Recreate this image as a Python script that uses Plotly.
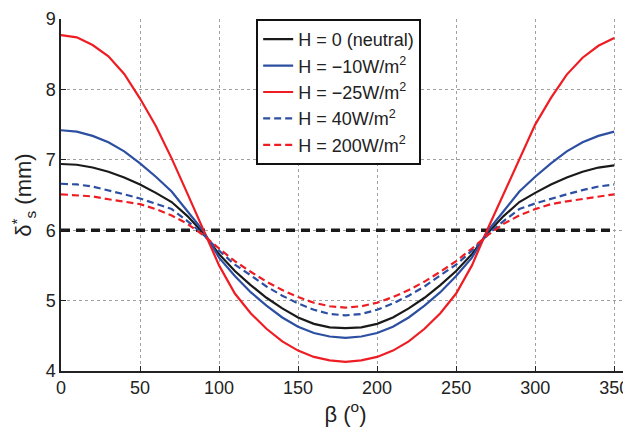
import plotly.graph_objects as go

beta = list(range(0, 360, 10))

h_neutral = [6.94, 6.93, 6.89, 6.83, 6.75, 6.65, 6.53, 6.40, 6.20, 5.96, 5.66, 5.42,
             5.22, 5.04, 4.89, 4.76, 4.67, 4.62, 4.61, 4.62, 4.67, 4.76, 4.89, 5.04,
             5.22, 5.42, 5.66, 5.96, 6.20, 6.40, 6.53, 6.65, 6.75, 6.83, 6.89, 6.92]
h_m10 = [7.42, 7.40, 7.34, 7.25, 7.12, 6.95, 6.76, 6.55, 6.27, 5.99, 5.61, 5.35,
         5.12, 4.93, 4.76, 4.63, 4.54, 4.49, 4.47, 4.49, 4.54, 4.63, 4.76, 4.93,
         5.12, 5.35, 5.61, 5.99, 6.27, 6.55, 6.76, 6.95, 7.12, 7.25, 7.34, 7.40]
h_m25 = [8.77, 8.74, 8.63, 8.47, 8.22, 7.87, 7.48, 7.02, 6.52, 6.02, 5.50, 5.10,
         4.82, 4.60, 4.42, 4.29, 4.20, 4.15, 4.13, 4.15, 4.20, 4.29, 4.42, 4.60,
         4.82, 5.10, 5.50, 6.02, 6.52, 7.02, 7.50, 7.88, 8.21, 8.45, 8.62, 8.73]
h_40 = [6.66, 6.65, 6.62, 6.57, 6.51, 6.45, 6.38, 6.30, 6.13, 5.94, 5.71, 5.51,
        5.36, 5.20, 5.07, 4.96, 4.87, 4.81, 4.79, 4.81, 4.87, 4.96, 5.07, 5.20,
        5.36, 5.51, 5.71, 5.94, 6.13, 6.30, 6.38, 6.45, 6.51, 6.57, 6.62, 6.65]
h_200 = [6.51, 6.50, 6.48, 6.44, 6.41, 6.37, 6.30, 6.21, 6.09, 5.93, 5.74, 5.56,
         5.41, 5.27, 5.15, 5.05, 4.97, 4.92, 4.90, 4.92, 4.97, 5.05, 5.15, 5.27,
         5.41, 5.56, 5.74, 5.93, 6.09, 6.21, 6.30, 6.37, 6.41, 6.44, 6.48, 6.51]
ref_x = [0, 350]
ref_y = [6.0, 6.0]

x_ticks = [0, 50, 100, 150, 200, 250, 300, 350]
y_ticks = [4, 5, 6, 7, 8, 9]

RED = "#ee1d23"
BLUE = "#2d4fa2"
BLACK = "#1a1a1a"

fig = go.Figure()
fig.add_trace(go.Scatter(x=ref_x, y=ref_y, mode="lines", showlegend=False,
                         line=dict(color=BLACK, width=3.5, dash="9px,6px")))
series = [
    ("H = 0 (neutral)", h_neutral, BLACK, "solid"),
    ("H = \u221210W/m<sup>2</sup>", h_m10, BLUE, "solid"),
    ("H = \u221225W/m<sup>2</sup>", h_m25, RED, "solid"),
    ("H = 40W/m<sup>2</sup>", h_40, BLUE, "7px,4px"),
    ("H = 200W/m<sup>2</sup>", h_200, RED, "7px,4px"),
]
for name, ys, col, dash in series:
    fig.add_trace(go.Scatter(x=beta, y=ys, mode="lines", name=name,
                             line=dict(color=col, width=2.2, dash=dash)))

font = dict(family="Liberation Sans, Arial, sans-serif", size=18, color="#222")
fig.update_layout(
    width=623, height=422,
    margin=dict(l=53, r=1, t=8, b=59),
    paper_bgcolor="white", plot_bgcolor="white",
    font=font,
    legend=dict(x=0.343, y=1.0, xanchor="left", yanchor="top",
                bgcolor="white", bordercolor="#111", borderwidth=2,
                font=dict(family="Liberation Sans, Arial, sans-serif", size=18, color="#222"),
                tracegroupgap=0),
    xaxis=dict(range=[0, 360], tickvals=x_ticks, ticks="inside", ticklen=5,
               tickcolor="#222", showline=True, linecolor="#222", linewidth=1.5,
               showgrid=True, gridcolor="#a0a0a0", griddash="dot", gridwidth=1,
               zeroline=False, ticklabeloverflow="allow",
               title=dict(text="\u03b2 (<sup>o</sup>)", standoff=6)),
    yaxis=dict(range=[4, 9], tickvals=y_ticks, ticks="inside", ticklen=5,
               tickcolor="#222", showline=True, linecolor="#222", linewidth=1.5,
               showgrid=True, gridcolor="#a0a0a0", griddash="dot", gridwidth=1,
               zeroline=False, ticklabeloverflow="allow",
               title=dict(text="\u03b4<sup>*</sup><sub>s</sub> (mm)", standoff=10)),
)
fig.write_html("out.html")
